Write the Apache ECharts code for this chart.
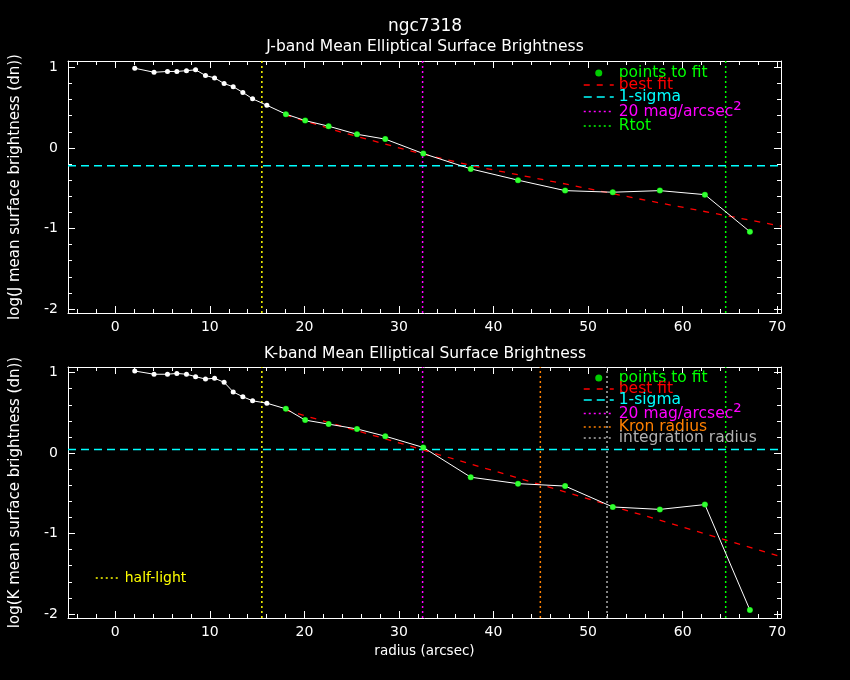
<!DOCTYPE html>
<html><head><meta charset="utf-8">
<script src="https://cdn.jsdelivr.net/npm/echarts@6/dist/echarts.min.js"></script>
<style>html,body{margin:0;background:#000}#c{width:850px;height:680px}</style>
</head><body><div id="c"></div><script>
// ---- data ----
const radius  = [2.06, 4.1, 5.52, 6.51, 7.53, 8.49, 9.54, 10.5, 11.51, 12.47, 13.49, 14.52, 16.03, 18.04, 20.08, 22.56, 25.56, 28.55, 32.57, 37.59, 42.59, 47.57, 52.61, 57.59, 62.35, 67.11];
const jValues = [0.99, 0.94, 0.95, 0.95, 0.96, 0.97, 0.90, 0.87, 0.80, 0.76, 0.69, 0.61, 0.53, 0.42, 0.34, 0.27, 0.17, 0.11, -0.07, -0.26, -0.40, -0.53, -0.55, -0.53, -0.58, -1.04];
const kValues = [1.02, 0.98, 0.98, 0.99, 0.98, 0.95, 0.92, 0.93, 0.88, 0.76, 0.70, 0.65, 0.62, 0.55, 0.41, 0.36, 0.30, 0.21, 0.07, -0.30, -0.38, -0.41, -0.67, -0.70, -0.64, -1.95];
const fitMinRadius = 18;
const jFitR = [18.0, 23.8, 29.4, 32.0, 37.7, 47.7, 54.8, 61.9, 70.4];
const jFitV = [0.41, 0.20, 0.02, -0.06, -0.22, -0.45, -0.62, -0.78, -0.97];
const kFitR = [18.0, 30.5, 44.9, 64.0, 70.4];
const kFitV = [0.535, 0.11, -0.39, -1.06, -1.29];
const jSigma = -0.22;
const kSigma = 0.045;
const halfLightR = 15.5, mag20R = 32.5, kronR = 44.95, integR = 52.0, rtotR = 64.55;
const xRange = [-5, 70.4];
const yRangeJ = [-2.05, 1.08];
const yRangeK = [-2.05, 1.07];
const xTicks = [0, 10, 20, 30, 40, 50, 60, 70];
const xMinorTicks = [-4, -2, 2, 4, 6, 8, 12, 14, 16, 18, 22, 24, 26, 28, 32, 34, 36, 38, 42, 44, 46, 48, 52, 54, 56, 58, 62, 64, 66, 68];
const yTicks = [-2, -1, 0, 1];
const yMinorTicks = [-1.8, -1.6, -1.4, -1.2, -0.8, -0.6, -0.4, -0.2, 0.2, 0.4, 0.6, 0.8];

const FONT = 'DejaVu Sans';
const WHITE = '#ffffff';
const C = {green:'#00ff00', red:'#ff0000', cyan:'#00ffff', magenta:'#ff00ff', orange:'#ff8000', grey:'#b0b0b0', yellow:'#ffff00'};

function xAxes(g, withName) {
  const base = {gridIndex:g, type:'value', min:xRange[0], max:xRange[1], splitLine:{show:false}};
  return [
    Object.assign({}, base, {position:'bottom',
      axisLine:{show:true, onZero:false, lineStyle:{color:WHITE, width:1}},
      axisTick:{show:true, inside:true, length:7, customValues:xTicks, lineStyle:{color:WHITE}},
      axisLabel:{show:true, customValues:xTicks, color:WHITE, fontSize:14, fontFamily:FONT, margin:7},
      name: withName ? 'radius (arcsec)' : '', nameLocation:'middle', nameGap:26,
      nameTextStyle:{color:WHITE, fontSize:13.5, fontFamily:FONT}}),
    Object.assign({}, base, {position:'bottom',
      axisLine:{show:false, onZero:false},
      axisTick:{show:true, inside:true, length:4, customValues:xMinorTicks, lineStyle:{color:WHITE}},
      axisLabel:{show:false}}),
    Object.assign({}, base, {position:'top',
      axisLine:{show:true, onZero:false, lineStyle:{color:WHITE, width:1}},
      axisTick:{show:true, inside:true, length:7, customValues:xTicks, lineStyle:{color:WHITE}},
      axisLabel:{show:false}}),
    Object.assign({}, base, {position:'top',
      axisLine:{show:false, onZero:false},
      axisTick:{show:true, inside:true, length:4, customValues:xMinorTicks, lineStyle:{color:WHITE}},
      axisLabel:{show:false}})
  ];
}
function yAxes(g, range, name) {
  const base = {gridIndex:g, type:'value', min:range[0], max:range[1], splitLine:{show:false}};
  return [
    Object.assign({}, base, {position:'left',
      axisLine:{show:true, onZero:false, lineStyle:{color:WHITE, width:1}},
      axisTick:{show:true, inside:true, length:7, customValues:yTicks, lineStyle:{color:WHITE}},
      axisLabel:{show:true, customValues:yTicks, color:WHITE, fontSize:14, fontFamily:FONT, margin:10},
      name:name, nameLocation:'middle', nameGap:45,
      nameTextStyle:{color:WHITE, fontSize:15, fontFamily:FONT}}),
    Object.assign({}, base, {position:'left',
      axisLine:{show:false, onZero:false},
      axisTick:{show:true, inside:true, length:4, customValues:yMinorTicks, lineStyle:{color:WHITE}},
      axisLabel:{show:false}}),
    Object.assign({}, base, {position:'right',
      axisLine:{show:true, onZero:false, lineStyle:{color:WHITE, width:1}},
      axisTick:{show:true, inside:true, length:7, customValues:yTicks, lineStyle:{color:WHITE}},
      axisLabel:{show:false}}),
    Object.assign({}, base, {position:'right',
      axisLine:{show:false, onZero:false},
      axisTick:{show:true, inside:true, length:4, customValues:yMinorTicks, lineStyle:{color:WHITE}},
      axisLabel:{show:false}})
  ];
}

function panelSeries(axisIdx, values, fitR, fitV, sigma, yRange, verticals) {
  const common = {xAxisIndex:axisIdx, yAxisIndex:axisIdx, silent:true, animation:false};
  const out = [];
  out.push(Object.assign({}, common, {name:'profile', type:'line',
    data: radius.map((r, i) => [r, values[i]]),
    symbol:'circle', symbolSize:5, showSymbol:true,
    itemStyle:{color:WHITE}, lineStyle:{color:WHITE, width:1}, z:5}));
  out.push(Object.assign({}, common, {name:'points to fit', type:'scatter',
    data: radius.map((r, i) => [r, values[i]]).filter(p => p[0] >= fitMinRadius),
    symbol:'circle', symbolSize:6, itemStyle:{color:C.green}, z:6}));
  out.push(Object.assign({}, common, {name:'best fit', type:'line',
    data: fitR.map((r, i) => [r, fitV[i]]), symbol:'none',
    lineStyle:{color:C.red, width:1.3, type:[6,7]}, itemStyle:{color:C.red}, z:4}));
  out.push(Object.assign({}, common, {name:'1-sigma', type:'line',
    data: [[xRange[0], sigma], [xRange[1], sigma]], symbol:'none',
    lineStyle:{color:C.cyan, width:1.5, type:[8,5]}, itemStyle:{color:C.cyan}, z:3}));
  verticals.forEach(v => {
    out.push(Object.assign({}, common, {name:v.name, type:'line',
      data: [[v.r, yRange[0]], [v.r, yRange[1]]], symbol:'none',
      lineStyle:{color:v.color, width:1.5, type:[2,3]}, itemStyle:{color:v.color}, z:2}));
  });
  return out;
}

const series = [].concat(
  panelSeries(0, jValues, jFitR, jFitV, jSigma, yRangeJ, [
    {name:'half-light', r:halfLightR, color:C.yellow},
    {name:'20 mag/arcsec2', r:mag20R, color:C.magenta},
    {name:'Rtot', r:rtotR, color:C.green}
  ]),
  panelSeries(4, kValues, kFitR, kFitV, kSigma, yRangeK, [
    {name:'half-light', r:halfLightR, color:C.yellow},
    {name:'20 mag/arcsec2', r:mag20R, color:C.magenta},
    {name:'Kron radius', r:kronR, color:C.orange},
    {name:'integration radius', r:integR, color:C.grey},
    {name:'Rtot', r:rtotR, color:C.green}
  ])
);

const legendText = {fontSize:15.5, fontFamily:FONT,
  rich:{sup:{fontSize:21, lineHeight:13, fontFamily:FONT, color:C.magenta}}};
function legendFmt(n){ return n === '20 mag/arcsec2' ? '20 mag/arcsec{sup|²}' : n; }
function item(name, color, isLine){
  const o = {name:name, textStyle:{color:color}};
  if (isLine) o.itemStyle = {opacity:0};
  return o;
}

const option = {
  backgroundColor:'#000000',
  animation:false,
  title:[
    {text:'ngc7318', left:'center', top:13, textStyle:{color:WHITE, fontSize:17, fontWeight:'normal', fontFamily:FONT}},
    {text:'J-band Mean Elliptical Surface Brightness', left:'center', top:34, textStyle:{color:WHITE, fontSize:15.5, fontWeight:'normal', fontFamily:FONT}},
    {text:'K-band Mean Elliptical Surface Brightness', left:'center', top:341, textStyle:{color:WHITE, fontSize:15.5, fontWeight:'normal', fontFamily:FONT}}
  ],
  grid:[
    {left:68, right:69, top:61, height:252},
    {left:68, right:69, top:367, height:251}
  ],
  xAxis: xAxes(0, false).concat(xAxes(1, true)),
  yAxis: yAxes(0, yRangeJ, 'log(J mean surface brightness (dn))').concat(yAxes(1, yRangeK, 'log(K mean surface brightness (dn))')),
  legend:[
    {left:578, top:60, orient:'vertical', itemWidth:30, itemHeight:7, itemGap:-4, selectedMode:false,
     textStyle:Object.assign({lineHeight:13}, legendText), formatter:legendFmt, lineStyle:{width:1.5},
     data:[item('points to fit', C.green), item('best fit', C.red, true), item('1-sigma', C.cyan, true), item('20 mag/arcsec2', C.magenta, true), item('Rtot', C.green, true)]},
    {left:578, top:365, orient:'vertical', itemWidth:30, itemHeight:7, itemGap:-5, selectedMode:false,
     textStyle:Object.assign({lineHeight:12}, legendText), formatter:legendFmt, lineStyle:{width:1.5},
     data:[item('points to fit', C.green), item('best fit', C.red, true), item('1-sigma', C.cyan, true), item('20 mag/arcsec2', C.magenta, true), item('Kron radius', C.orange, true), item('integration radius', C.grey, true)]},
    {left:90, top:566, orient:'horizontal', itemWidth:24, itemHeight:7, itemGap:0, selectedMode:false,
     textStyle:{fontSize:14, fontFamily:FONT, color:C.yellow}, lineStyle:{width:1.5},
     data:[item('half-light', C.yellow, true)]}
  ],
  series: series
};
const chart = echarts.init(document.getElementById('c'));
chart.setOption(option);
</script></body></html>
